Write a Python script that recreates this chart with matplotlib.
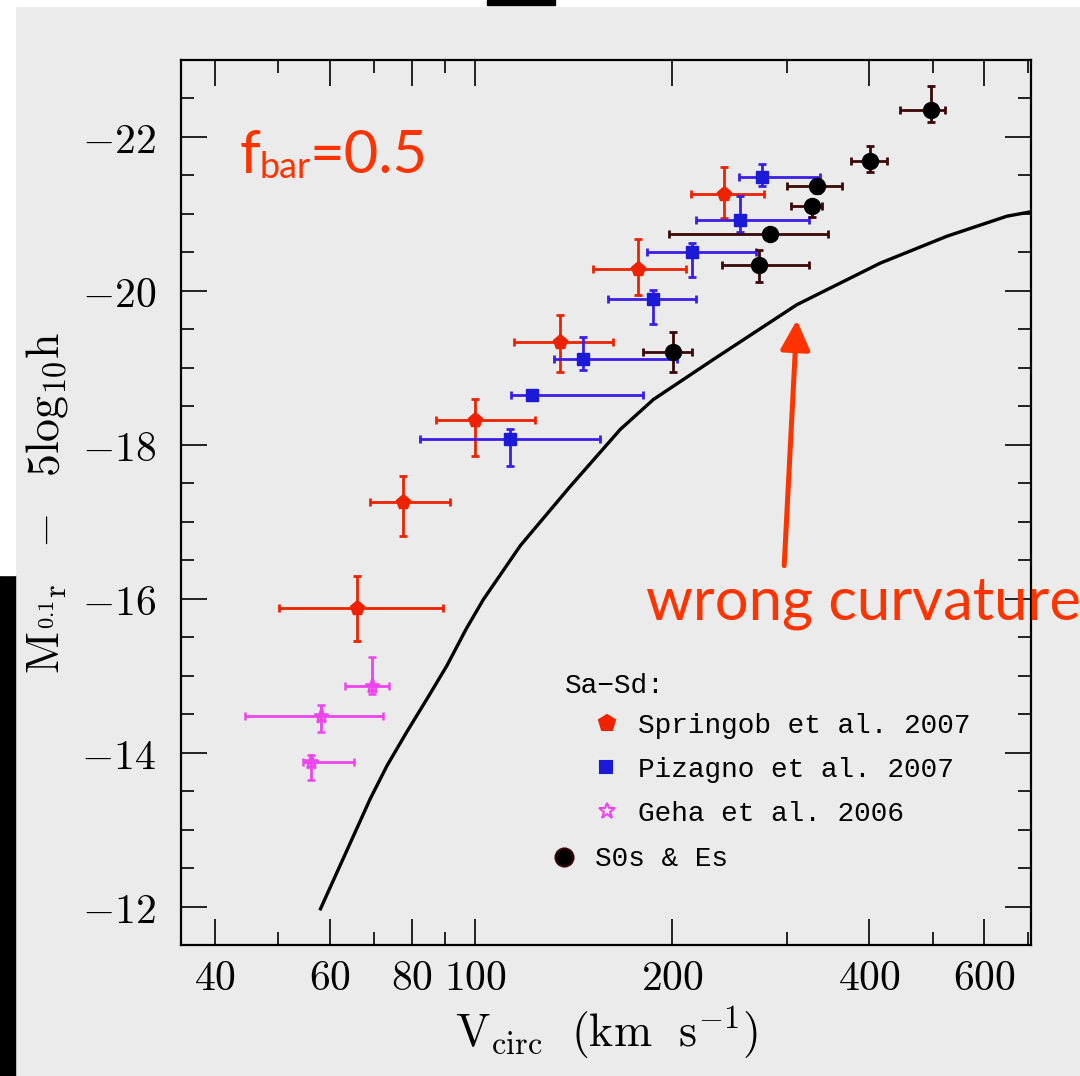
import numpy as np
import matplotlib
matplotlib.use('Agg')
from matplotlib import pyplot as plt
from matplotlib.patches import Rectangle

plt.rcParams['mathtext.fontset'] = 'cm'

# Springob et al. 2007 (Sa-Sd)
spr_v = [240.3, 177.6, 134.9, 100.0, 77.5, 66.0]
spr_v_lo = [213.9, 151.3, 114.7, 87.0, 69.1, 50.1]
spr_v_hi = [275.8, 209.6, 162.3, 123.2, 91.4, 89.3]
spr_m = [-21.26, -20.29, -19.33, -18.32, -17.26, -15.88]
spr_m_br = [-21.61, -20.68, -19.69, -18.60, -17.59, -16.29]
spr_m_fa = [-20.95, -19.94, -18.94, -17.86, -16.81, -15.45]

# Pizagno et al. 2007 (Sa-Sd)
piz_v = [274.8, 253.8, 214.8, 186.6, 146.1, 122.1, 113.1]
piz_v_lo = [252.9, 217.1, 182.9, 159.8, 132.1, 113.4, 82.4]
piz_v_hi = [336.7, 323.6, 268.5, 217.5, 203.5, 180.2, 155.2]
piz_m = [-21.48, -20.92, -20.50, -19.90, -19.12, -18.65, -18.08]
piz_m_br = [-21.65, -21.23, -20.62, -20.01, -19.40, -18.70, -18.21]
piz_m_fa = [-21.36, -20.77, -20.18, -19.57, -18.97, -18.60, -17.72]

# Geha et al. 2006 (dwarfs)
geh_v = [69.5, 58.1, 56.1]
geh_v_lo = [63.3, 44.5, 54.6]
geh_v_hi = [73.7, 72.2, 65.2]
geh_m = [-14.86, -14.48, -13.88]
geh_m_br = [-15.24, -14.62, -13.97]
geh_m_fa = [-14.76, -14.27, -13.64]

# S0s & Es
es_v = [497.6, 400.6, 332.8, 327.0, 282.4, 271.6, 200.5]
es_v_lo = [446.0, 375.5, 299.8, 303.7, 198.0, 238.2, 180.4]
es_v_hi = [522.6, 426.0, 363.9, 338.8, 346.3, 323.6, 214.4]
es_m = [-22.35, -21.69, -21.36, -21.10, -20.74, -20.34, -19.20]
es_m_br = [-22.66, -21.88, -21.45, -21.18, -20.79, -20.53, -19.47]
es_m_fa = [-22.19, -21.55, -21.27, -20.96, -20.69, -20.11, -18.95]

# model relation, fbar = 0.5
mod_v = [58.0, 69.1, 73.3, 78.6, 84.4, 90.5, 96.9, 102.9, 117.2, 139.7, 166.6,
         187.3, 231.3, 310.1, 415.8, 525.9, 649.4, 709.0]
mod_m = [-11.97, -13.40, -13.83, -14.27, -14.70, -15.13, -15.61, -15.99, -16.69, -17.46, -18.20,
         -18.59, -19.11, -19.82, -20.36, -20.71, -20.97, -21.03]

xmajor = [40, 60, 80, 100, 200, 400, 600]
xminor = [50, 70, 90, 300, 500, 700]
ymajor = [-22, -20, -18, -16, -14, -12]

bg = '#ebebeb'
red = '#ee2200'
blue = '#1a1ad8'
blue_bar = '#3a1ee8'
mag = '#ee44ee'
dark = '#3a0808'
note = '#ff3300'

W, H = 1080, 1076
fig = plt.figure(figsize=(W/100, H/100), dpi=100, facecolor=bg)
ax = fig.add_axes([181/W, 1-945/H, 850/W, 885/H], facecolor=bg)


def errs(v, lo, hi, m, br, fa):
    v, lo, hi = np.array(v), np.array(lo), np.array(hi)
    m, br, fa = np.array(m), np.array(br), np.array(fa)
    return v, m, [v-lo, hi-v], [m-br, fa-m]


eb = dict(ls='none', elinewidth=2.0, capsize=3, capthick=2.0)

v, m, xe, ye = errs(spr_v, spr_v_lo, spr_v_hi, spr_m, spr_m_br, spr_m_fa)
ax.errorbar(v, m, xerr=xe, yerr=ye, fmt='p', ms=11, color=red, ecolor=red, mec=red, zorder=3, **eb)

v, m, xe, ye = errs(piz_v, piz_v_lo, piz_v_hi, piz_m, piz_m_br, piz_m_fa)
ax.errorbar(v, m, xerr=xe, yerr=ye, fmt='s', ms=8.5, color=blue, ecolor=blue_bar, mec=blue, zorder=4, **eb)

v, m, xe, ye = errs(geh_v, geh_v_lo, geh_v_hi, geh_m, geh_m_br, geh_m_fa)
ax.errorbar(v, m, xerr=xe, yerr=ye, fmt='*', ms=11, mfc='none', mec=mag, mew=1.8, ecolor=mag, zorder=3, **eb)

v, m, xe, ye = errs(es_v, es_v_lo, es_v_hi, es_m, es_m_br, es_m_fa)
ax.errorbar(v, m, xerr=xe, yerr=ye, fmt='o', ms=11.5, color='black', ecolor=dark, mec='black', zorder=5, **eb)

ax.plot(mod_v, mod_m, '-', color='black', lw=2.4, zorder=2, solid_joinstyle='round')

ax.set_xscale('log')
ax.set_xlim(35.5, 707)
ax.set_ylim(-11.52, -23.0)

ax.set_xticks(xmajor, labels=['$%d$' % t for t in xmajor])
ax.set_xticks(xminor, minor=True)
ax.xaxis.set_minor_formatter(matplotlib.ticker.NullFormatter())
ax.set_yticks(ymajor, labels=['$-%d$' % abs(t) for t in ymajor])
ax.set_yticks(np.arange(-23.0, -11.4, 0.5), minor=True)

ax.tick_params(which='both', direction='in', top=True, right=True, width=1.2, color='black')
ax.tick_params(which='major', length=19)
ax.tick_params(which='minor', length=9.5)
ax.tick_params(axis='x', which='major', labelsize=30, pad=9)
ax.tick_params(axis='y', which='major', labelsize=30, pad=18)
for s in ax.spines.values():
    s.set_linewidth(1.6)

ax.set_xlabel(r'$\mathrm{V_{circ}\ \ (km\ \ s^{-1})}$', fontsize=33)
ax.xaxis.set_label_coords(0.5, -0.068)
ax.set_ylabel(r'$\mathrm{M_{{}^{0.1}r}\ \ -\ \ 5log_{10}h}$', fontsize=33)
ax.yaxis.set_label_coords(-0.13, 0.5)

# legend, drawn by hand for the indented layout
def ax_xy(px, py):
    return (px-181)/850, (945-py)/885

lf = dict(family='Liberation Mono', fontsize=20, va='center_baseline', ha='left', transform=ax.transAxes)
ax.text(*ax_xy(565, 683), 'Sa\u2212Sd:', **lf)
keys = [
    (606.7, 723, 'p', 12, red, red, 'Springob et al. 2007', 638),
    (605.7, 767, 's', 8.5, blue, blue, 'Pizagno et al. 2007', 638),
    (606.7, 811, '*', 12, 'none', mag, 'Geha et al. 2006', 638),
    (564, 856.5, 'o', 13, 'black', dark, 'S0s & Es', 595),
]
for px, py, mk, ms, fc, ec, lab, tx in keys:
    ax.plot(*ax_xy(px, py), marker=mk, ms=ms, mfc=fc, mec=ec, mew=1.5, ls='none', transform=ax.transAxes, clip_on=False)
    ax.text(*ax_xy(tx, py), lab, **lf)

# annotations
def fig_xy(px, py):
    return px/W, 1-py/H

fig.text(*fig_xy(240, 173), 'f', family='Lato', fontsize=43, color=note, va='baseline')
fig.text(*fig_xy(259, 178), 'bar', family='Lato', fontsize=26, color=note, va='baseline')
fig.text(*fig_xy(309, 173), '=0.5', family='Lato', fontsize=43, color=note, va='baseline')

ax.annotate('', xy=(310.1, -19.62), xytext=(296.6, -16.43),
            arrowprops=dict(arrowstyle='-|>,head_length=0.9,head_width=0.45', mutation_scale=20,
                            lw=3.6, color=note, shrinkA=0, shrinkB=0), zorder=6)
fig.text(*fig_xy(646, 620), 'wrong curvature', family='Lato', fontsize=43, color=note, va='baseline')

# slide edges around the figure
fig.patches.append(Rectangle((0, 0), 15/W, 1 - 575/H, transform=fig.transFigure, color='black', zorder=10))
fig.patches.append(Rectangle((0, 1 - 575/H), 15/W, 575/H, transform=fig.transFigure, color='white', zorder=10))
fig.patches.append(Rectangle((0, 1 - 6/H), 1, 6/H, transform=fig.transFigure, color='white', zorder=10))
fig.patches.append(Rectangle((487/W, 1 - 5/H), 68/W, 5/H, transform=fig.transFigure, color='black', zorder=11))

plt.savefig('out.png', dpi=100, facecolor=bg)
